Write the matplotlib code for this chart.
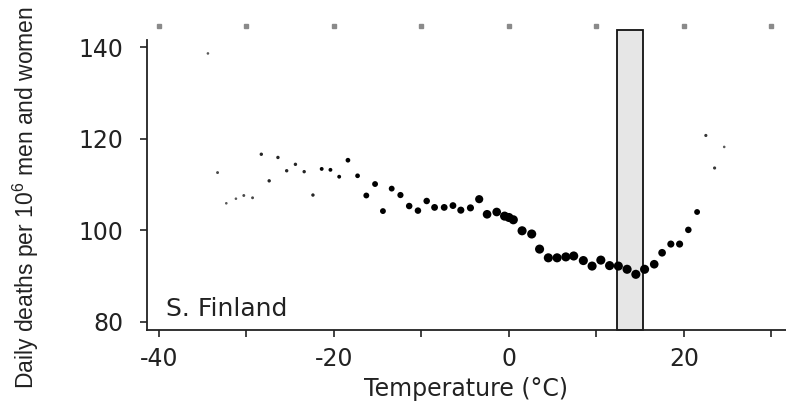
import numpy as np
import matplotlib
matplotlib.use("Agg")
import matplotlib.pyplot as plt
from matplotlib.patches import Rectangle

# Data
temps = [-34.4, -33.3, -32.3, -31.2, -30.3, -29.3, -28.3, -27.4, -26.4, -25.4,
         -24.4, -23.4, -22.4, -21.4, -20.4, -19.4, -18.4, -17.3, -16.3, -15.3,
         -14.4, -13.4, -12.4, -11.4, -10.4, -9.4, -8.5, -7.4, -6.4, -5.5,
         -4.4, -3.4, -2.5, -1.4, -0.5, 0.0, 0.5, 1.5, 2.6, 3.5,
         4.5, 5.5, 6.5, 7.4, 8.5, 9.5, 10.5, 11.5, 12.5, 13.5,
         14.5, 15.5, 16.6, 17.5, 18.5, 19.5, 20.5, 21.5, 22.5, 23.5, 24.6]
deaths = [138.6, 112.6, 105.9, 106.9, 107.6, 107.1, 116.6, 110.8, 115.9, 113.0,
          114.4, 112.8, 107.7, 113.4, 113.2, 111.7, 115.3, 111.9, 107.6, 110.1,
          104.2, 109.1, 107.7, 105.3, 104.3, 106.4, 105.0, 105.0, 105.4, 104.4,
          104.9, 106.8, 103.5, 104.0, 103.1, 102.8, 102.3, 99.9, 99.2, 95.9,
          94.0, 94.0, 94.2, 94.4, 93.4, 92.2, 93.5, 92.3, 92.2, 91.5,
          90.4, 91.5, 92.6, 95.1, 97.0, 97.0, 100.1, 104.0, 120.7, 113.6, 118.2]
# relative number of days behind each point (drives the dot size)
days = [0.6, 0.8, 0.6, 0.6, 0.8, 0.8, 1.2, 1.2, 1.2, 1.2,
        1.2, 1.2, 1.2, 1.6, 1.6, 1.6, 2.5, 2.5, 4, 4,
        4, 4, 4.5, 5, 5, 5, 5.5, 5.5, 5.5, 6,
        6, 8, 9, 9, 10, 10, 10, 10, 10, 10,
        10, 10, 10, 10, 10, 10, 10, 10, 10, 10,
        10, 10, 9, 7, 6, 6, 5, 4, 1, 1, 0.6]

band = (12.3, 15.3)          # temperature band of minimum mortality
band_top = 143.7
xticks = [-40, -20, 0, 20]
xminor = [-30, -10, 10, 30]
yticks = [80, 100, 120, 140]
top_marks = [-40, -30, -20, -10, 0, 10, 20, 30]

plt.rcParams['axes.unicode_minus'] = False
plt.rcParams['mathtext.fontset'] = 'custom'
plt.rcParams['mathtext.rm'] = 'Liberation Sans'
plt.rcParams['mathtext.default'] = 'regular'

fig = plt.figure(figsize=(7.86, 4.07), dpi=100)
ax = fig.add_axes([0.1866, 0.1892, 0.8134, 0.7125])
ax.set_xlim(-41.4, 31.66)
ax.set_ylim(78.25, 141.53)

ink = '#222222'

# reference band
ax.add_patch(Rectangle((band[0], 78.25), band[1] - band[0], band_top - 78.25,
                       facecolor='#e6e6e6', edgecolor='#111111', lw=1.3,
                       clip_on=False, zorder=1))

d = np.array(days)
alpha = np.clip(0.45 + d / 3.0, 0, 1)
colors = [(0, 0, 0, a) for a in alpha]
ax.scatter(temps, deaths, s=4.2 * d + 1.0, c=colors, edgecolors='none', zorder=3)

# small marks of the panel above
ax.plot(top_marks, [1.049] * len(top_marks), 's', ms=2.6, color='#8a8a8a',
        transform=ax.get_xaxis_transform(), clip_on=False)

for s in ['top', 'right']:
    ax.spines[s].set_visible(False)
for s in ['left', 'bottom']:
    ax.spines[s].set_linewidth(1.3)
    ax.spines[s].set_color(ink)

ax.set_xticks(xticks)
ax.set_xticks(xminor, minor=True)
ax.set_yticks(yticks)
ax.tick_params(axis='both', which='both', direction='out', length=5,
               width=1.2, color=ink, labelsize=17, labelcolor=ink)
ax.tick_params(axis='y', pad=12)
ax.tick_params(axis='x', pad=7.5)

ax.set_xlabel('Temperature (°C)', fontsize=17, color=ink, labelpad=4)
fig.text(26 / 786, 1 - 198 / 407, r'Daily deaths per 10$^{6}$ men and women',
         rotation=90, ha='center', va='center', fontsize=16.5,
         family='Liberation Sans', color=ink)

ax.text(0.031, 0.048, 'S. Finland', transform=ax.transAxes, fontsize=18,
        va='baseline', ha='left', color=ink)

fig.savefig('out.png', dpi=100)
